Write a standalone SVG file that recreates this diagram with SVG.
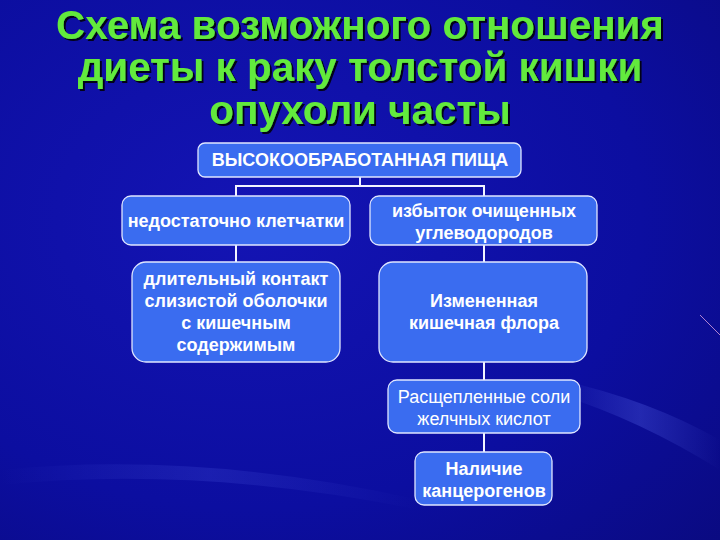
<svg xmlns="http://www.w3.org/2000/svg" width="720" height="540" viewBox="0 0 720 540">
<defs>
<radialGradient id="bg" cx="0.35" cy="0.4" r="0.9">
<stop offset="0" stop-color="#1414b4"/>
<stop offset="0.6" stop-color="#0c0ea0"/>
<stop offset="1" stop-color="#0a0a80"/>
</radialGradient>
<linearGradient id="streak" x1="0" y1="0" x2="1" y2="0">
<stop offset="0" stop-color="#6a7cff" stop-opacity="0"/>
<stop offset="0.5" stop-color="#6a7cff" stop-opacity="0.25"/>
<stop offset="1" stop-color="#6a7cff" stop-opacity="0"/>
</linearGradient>
<filter id="sh" x="-5%" y="-20%" width="110%" height="140%">
<feDropShadow dx="2" dy="2" stdDeviation="0.6" flood-color="#000000" flood-opacity="0.85"/>
</filter>
<style>
.title{font-family:"Liberation Sans",Arial,sans-serif;font-weight:bold;font-size:40.4px;fill:#62ea3c;text-anchor:middle}
.box{fill:#3a6cf0;stroke:#dfe6ff;stroke-width:1.3}
.t{font-family:"Liberation Sans",Arial,sans-serif;font-weight:bold;font-size:18px;fill:#ffffff;text-anchor:middle}
.tr{font-family:"Liberation Sans",Arial,sans-serif;font-size:18px;fill:#ffffff;text-anchor:middle}
.conn{stroke:#f2f4ff;stroke-width:2;fill:none}
</style>
</defs>
<rect width="720" height="540" fill="url(#bg)"/>
<path d="M560 380 Q650 400 720 440 L720 470 Q640 420 560 395 Z" fill="url(#streak)"/>
<path d="M0 470 Q200 450 420 500 L420 510 Q200 465 0 485 Z" fill="url(#streak)" opacity="0.6"/>
<path d="M700 315 L720 335" stroke="#d8a0e0" stroke-width="1" opacity="0.8"/>
<g id="title" filter="url(#sh)">
<text class="title" x="360" y="39">Схема возможного отношения</text>
<text class="title" x="360" y="81">диеты к раку толстой кишки</text>
<text class="title" x="360" y="124">опухоли часты</text>
</g>
<g id="connectors">
<path class="conn" d="M360 177 V186 M236 196 V186 H484 V196"/>
<path class="conn" d="M236 245 V262"/>
<path class="conn" d="M484 245 V262"/>
<path class="conn" d="M484 362 V380"/>
<path class="conn" d="M484 433 V452"/>
</g>
<g id="n-food">
<rect class="box" x="198" y="143" width="323" height="34" rx="7"/>
<text class="t" x="360" y="166" font-size="16.4">ВЫСОКООБРАБОТАННАЯ ПИЩА</text>
</g>
<g id="n-fiber">
<rect class="box" x="122" y="196" width="228" height="49" rx="9"/>
<text class="t" x="236" y="227">недостаточно клетчатки</text>
</g>
<g id="n-carbs">
<rect class="box" x="370" y="196" width="227" height="49" rx="9"/>
<text class="t" x="484" y="217">избыток очищенных</text>
<text class="t" x="484" y="239">углеводородов</text>
</g>
<g id="n-contact">
<rect class="box" x="132" y="262" width="208" height="100" rx="14"/>
<text class="t" x="236" y="285">длительный контакт</text>
<text class="t" x="236" y="307">слизистой оболочки</text>
<text class="t" x="236" y="329">с кишечным</text>
<text class="t" x="236" y="351">содержимым</text>
</g>
<g id="n-flora">
<rect class="box" x="379" y="262" width="208" height="100" rx="14"/>
<text class="t" x="484" y="307">Измененная</text>
<text class="t" x="484" y="329">кишечная флора</text>
</g>
<g id="n-bile">
<rect class="box" x="388" y="380" width="192" height="53" rx="9"/>
<text class="tr" x="484" y="403">Расщепленные соли</text>
<text class="tr" x="484" y="425">желчных кислот</text>
</g>
<g id="n-carc">
<rect class="box" x="415" y="452" width="137" height="53" rx="9"/>
<text class="t" x="484" y="475">Наличие</text>
<text class="t" x="484" y="497">канцерогенов</text>
</g>
</svg>
